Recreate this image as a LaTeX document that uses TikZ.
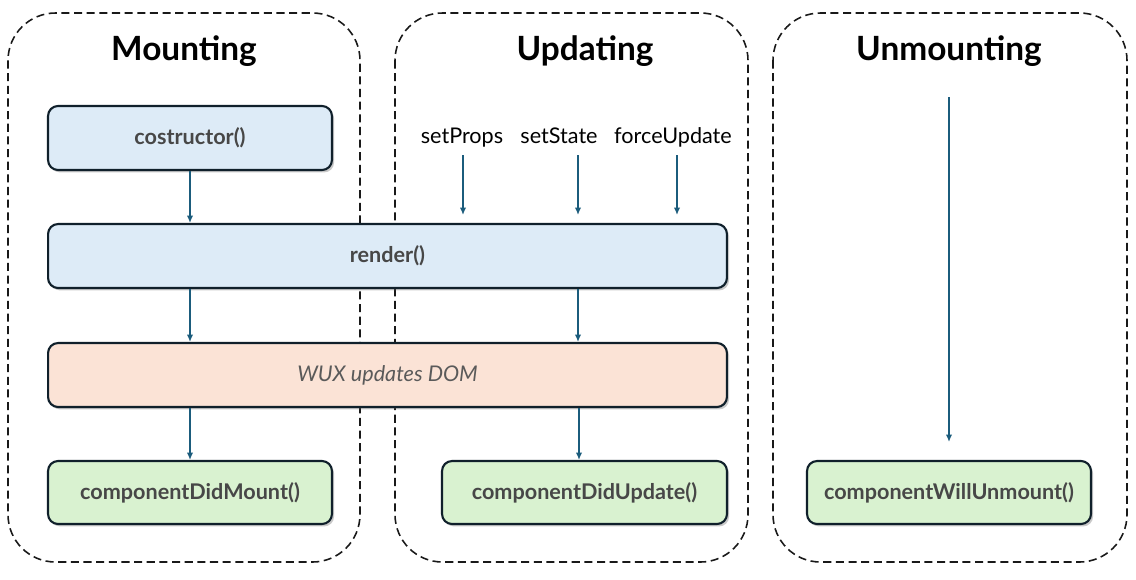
\documentclass[tikz,border=0pt]{standalone}
\usepackage{fontspec}
\setmainfont{Lato}
\usetikzlibrary{arrows.meta,shadows}
\definecolor{bluefill}{HTML}{DDEBF7}
\definecolor{peachfill}{HTML}{FBE3D6}
\definecolor{greenfill}{HTML}{D9F2D0}
\definecolor{boxline}{HTML}{10202B}
\definecolor{arrowcol}{HTML}{1B5C7C}
\definecolor{txtgray}{HTML}{474747}
\tikzset{
  phase/.style={draw=black!90, line width=0.9pt, dash pattern=on 4.6pt off 2.6pt, rounded corners=0.95cm},
  title/.style={font=\fontsize{19}{22}\selectfont\bfseries, text=black},
  box/.style={draw=boxline, line width=1.2pt, rounded corners=0.2cm, inner sep=0pt,
    minimum height=1.28cm, font=\fontsize{12.3}{14}\selectfont\bfseries, text=txtgray,
    drop shadow={shadow xshift=1.2pt, shadow yshift=-1.4pt, opacity=0.35, fill=black!60}},
  bluebox/.style={box, fill=bluefill},
  peachbox/.style={box, fill=peachfill, font=\fontsize{12.3}{14}\selectfont\itshape, text=txtgray!90},
  greenbox/.style={box, fill=greenfill},
  trig/.style={font=\fontsize{12.3}{14}\selectfont, text=black, inner sep=0pt, text height=1.6ex, text depth=0.45ex},
  arr/.style={draw=arrowcol, line width=0.75pt, -{Latex[length=4.2pt,width=3.6pt]}},
}
\begin{document}
\begin{tikzpicture}[x=0.02cm,y=-0.02cm]
\useasboundingbox[fill=white] (0,0) rectangle (1136,579);
% phase containers
\draw[phase] (8,13) rectangle (360,562);
\draw[phase] (395,13) rectangle (748,562);
\draw[phase] (773,13) rectangle (1127,562);
\node[title] (tmount) at (184,51) {Mounting};
\node[title] (tupd) at (585,51) {Updating};
\node[title] (tunm) at (949,51) {Unmounting};
% boxes
\node[bluebox, minimum width=5.68cm] (ctor) at (190,138) {costructor()};
\node[bluebox, minimum width=13.58cm] (render) at (387.5,256) {render()};
\node[peachbox, minimum width=13.58cm] (wux) at (387.5,375) {WUX updates DOM};
\node[greenbox, minimum width=5.68cm, minimum height=1.26cm] (didmount) at (190,492.5) {componentDidMount()};
\node[greenbox, minimum width=5.7cm, minimum height=1.26cm] (didupd) at (584.5,492.5) {componentDidUpdate()};
\node[greenbox, minimum width=5.68cm, minimum height=1.26cm] (willunm) at (949,492.5) {componentWillUnmount()};
% triggers
\node[trig] (sp) at (462,138) {setProps};
\node[trig] (ss) at (559,138) {setState};
\node[trig] (fu) at (673,138) {forceUpdate};
\coordinate (spx) at (463,0);
\coordinate (ssx) at (578,0);
\coordinate (fux) at (677,0);
\coordinate (ux) at (578,0);
\coordinate (ux2) at (579,0);
\coordinate (unmstart) at (949,97);
% mounting arrows
\draw[arr] (ctor.south) -- (ctor.south |- render.north);
\draw[arr] (ctor.south |- render.south) -- (ctor.south |- wux.north);
\draw[arr] (ctor.south |- wux.south) -- (didmount.north);
% updating arrows
\draw[arr, shorten >=0.16cm, shorten <=0.16cm] (spx |- sp.south) -- (spx |- render.north);
\draw[arr, shorten >=0.16cm, shorten <=0.16cm] (ssx |- ss.south) -- (ssx |- render.north);
\draw[arr, shorten >=0.16cm, shorten <=0.16cm] (fux |- fu.south) -- (fux |- render.north);
\draw[arr] (ux |- render.south) -- (ux |- wux.north);
\draw[arr] (ux2 |- wux.south) -- (ux2 |- didupd.north);
% unmounting arrow
\draw[arr, shorten >=0.36cm] (unmstart) -- (willunm.north);
\end{tikzpicture}
\end{document}
